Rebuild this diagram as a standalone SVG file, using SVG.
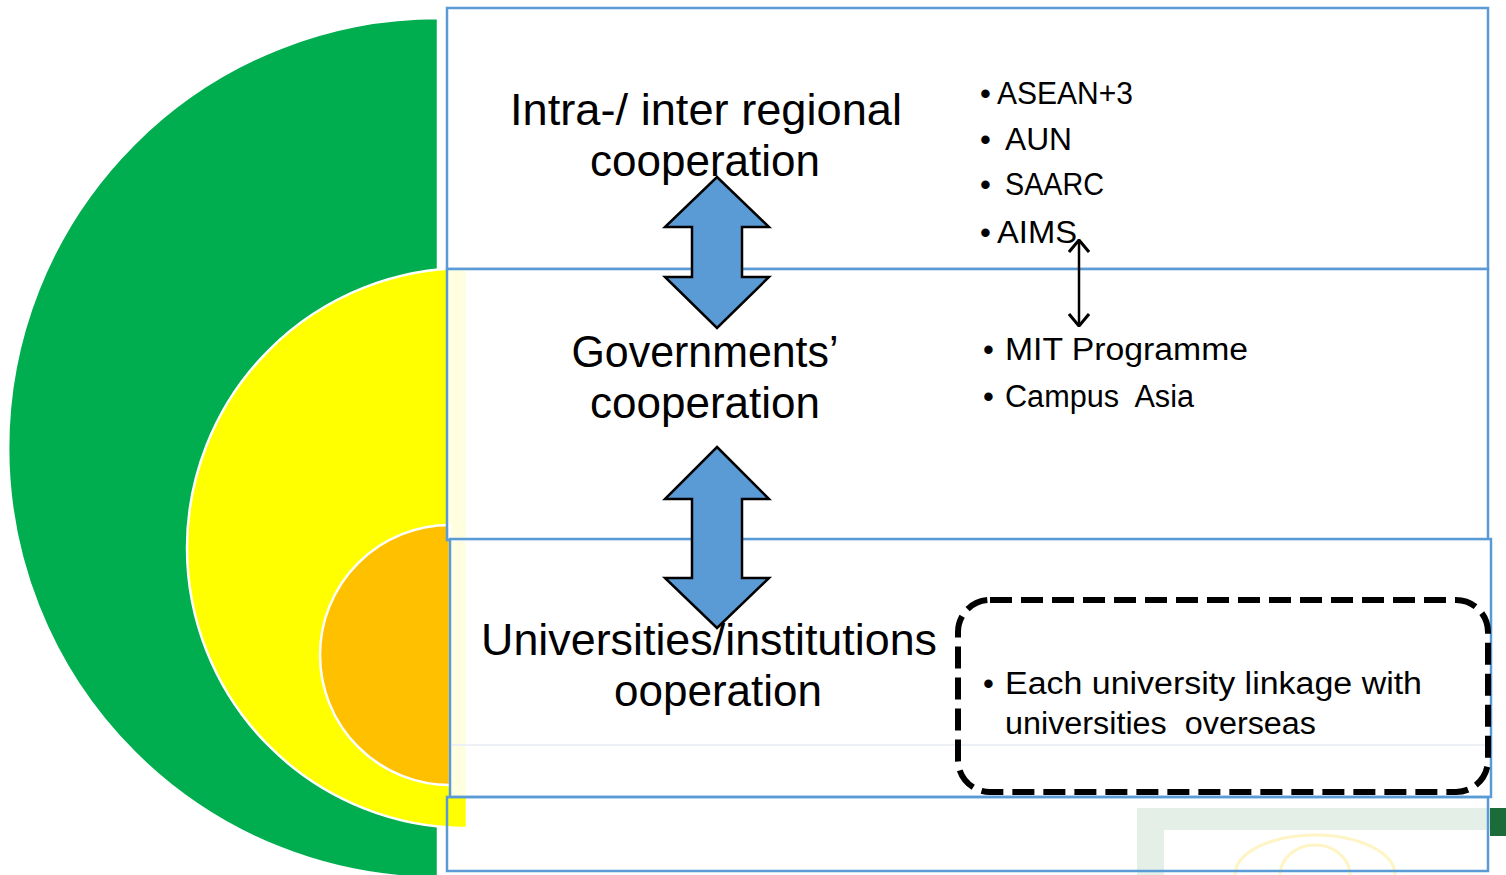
<svg xmlns="http://www.w3.org/2000/svg" width="1506" height="875" viewBox="0 0 1506 875">
<style>
.box{stroke:#5B9BD5;stroke-width:2.5}
.big{font-family:"Liberation Sans",Arial,sans-serif;font-size:44px;fill:#000;text-anchor:middle}
.sm{font-family:"Liberation Sans",Arial,sans-serif;font-size:31px;fill:#000;white-space:pre}
.dbl{fill:#5B9BD5;stroke:#000;stroke-width:2.5;stroke-linejoin:miter}
.ring{stroke:#fff;stroke-width:2.5}
</style>
<defs>
<marker id="chev" viewBox="0 0 14 22" refX="13" refY="11" markerWidth="14" markerHeight="22" markerUnits="userSpaceOnUse" orient="auto-start-reverse">
<path d="M1,1 L13,11 L1,21" fill="none" stroke="#000" stroke-width="3"/>
</marker>
</defs>
<rect width="1506" height="875" fill="#fff"/>
<g id="watermark">
<rect x="1137" y="808" width="369" height="22" fill="#E4EFE8"/>
<rect x="1137" y="808" width="27" height="67" fill="#E4EFE8"/>
<rect x="1490" y="808" width="16" height="28" fill="#1C6B3B"/>
<path d="M1235,875 A80,40 0 0 1 1395,875" fill="none" stroke="#FFF4C4" stroke-width="3"/>
<path d="M1280,875 A35,30 0 0 1 1350,875" fill="none" stroke="#FFF4C4" stroke-width="3"/>
</g>
<g id="rings">
<path class="ring" d="M438,18 A430,430 0 0 0 438,878 Z" fill="#00AD4F"/>
<path class="ring" d="M467,268 A280,280 0 0 0 467,828 Z" fill="#FFFF00"/>
<path class="ring" d="M450,525 A130,130 0 0 0 450,785 Z" fill="#FFC000"/>
</g>
<g id="box-regional">
<rect class="box" x="447" y="8" width="1041" height="261" fill="#fff"/>
<text class="big" x="706" y="125" textLength="392" lengthAdjust="spacingAndGlyphs">Intra-/ inter regional</text>
<text class="big" x="705" y="176" textLength="230" lengthAdjust="spacingAndGlyphs">cooperation</text>
<text class="sm" x="980" y="104">•</text>
<text class="sm" x="997" y="104" textLength="136" lengthAdjust="spacingAndGlyphs">ASEAN+3</text>
<text class="sm" x="980" y="150">•</text>
<text class="sm" x="1005" y="150" textLength="67" lengthAdjust="spacingAndGlyphs">AUN</text>
<text class="sm" x="980" y="195">•</text>
<text class="sm" x="1005" y="195" textLength="99" lengthAdjust="spacingAndGlyphs">SAARC</text>
<text class="sm" x="980" y="243">•</text>
<text class="sm" x="997" y="243" textLength="80" lengthAdjust="spacingAndGlyphs">AIMS</text>
</g>
<g id="box-government">
<rect class="box" x="447" y="269" width="1041" height="271" fill="#fff" fill-opacity="0.88"/>
<text class="big" x="705" y="367" textLength="267" lengthAdjust="spacingAndGlyphs">Governments’</text>
<text class="big" x="705" y="418" textLength="230" lengthAdjust="spacingAndGlyphs">cooperation</text>
<text class="sm" x="983" y="360">•</text>
<text class="sm" x="1005" y="360" textLength="243" lengthAdjust="spacingAndGlyphs">MIT Programme</text>
<text class="sm" x="983" y="407">•</text>
<text class="sm" x="1005" y="407" textLength="189" lengthAdjust="spacingAndGlyphs">Campus  Asia</text>
</g>
<g id="box-universities">
<rect class="box" x="450" y="539" width="1041" height="258" fill="#fff" fill-opacity="0.88"/>
<line x1="452" y1="745" x2="1489" y2="745" stroke="#EDF1F6" stroke-width="2"/>
</g>
<g id="box-bottom">
<rect class="box" x="447" y="797" width="1041" height="74" fill="none"/>
</g>
<g id="connectors">
<path class="dbl" d="M717,177 L769,227 L742,227 L742,277 L769,277 L717,328 L665,277 L692,277 L692,227 L665,227 Z"/>
<path class="dbl" d="M717,447 L769,499 L742,499 L742,578 L769,578 L717,628 L665,578 L692,578 L692,499 L665,499 Z"/>
<line x1="1079" y1="240" x2="1079" y2="326" stroke="#000" stroke-width="2.5" marker-start="url(#chev)" marker-end="url(#chev)"/>
</g>
<g id="universities-text">
<text class="big" x="709" y="655" textLength="456" lengthAdjust="spacingAndGlyphs">Universities/institutions</text>
<text class="big" x="718" y="706" textLength="208" lengthAdjust="spacingAndGlyphs">ooperation</text>
</g>
<g id="linkage-box">
<rect x="958" y="600" width="530" height="192" rx="32" ry="32" fill="none" stroke="#000" stroke-width="6" stroke-dasharray="22,9"/>
<text class="sm" x="983" y="694">•</text>
<text class="sm" x="1005" y="694" textLength="417" lengthAdjust="spacingAndGlyphs">Each university linkage with</text>
<text class="sm" x="1005" y="734" textLength="311" lengthAdjust="spacingAndGlyphs">universities  overseas</text>
</g>
</svg>
